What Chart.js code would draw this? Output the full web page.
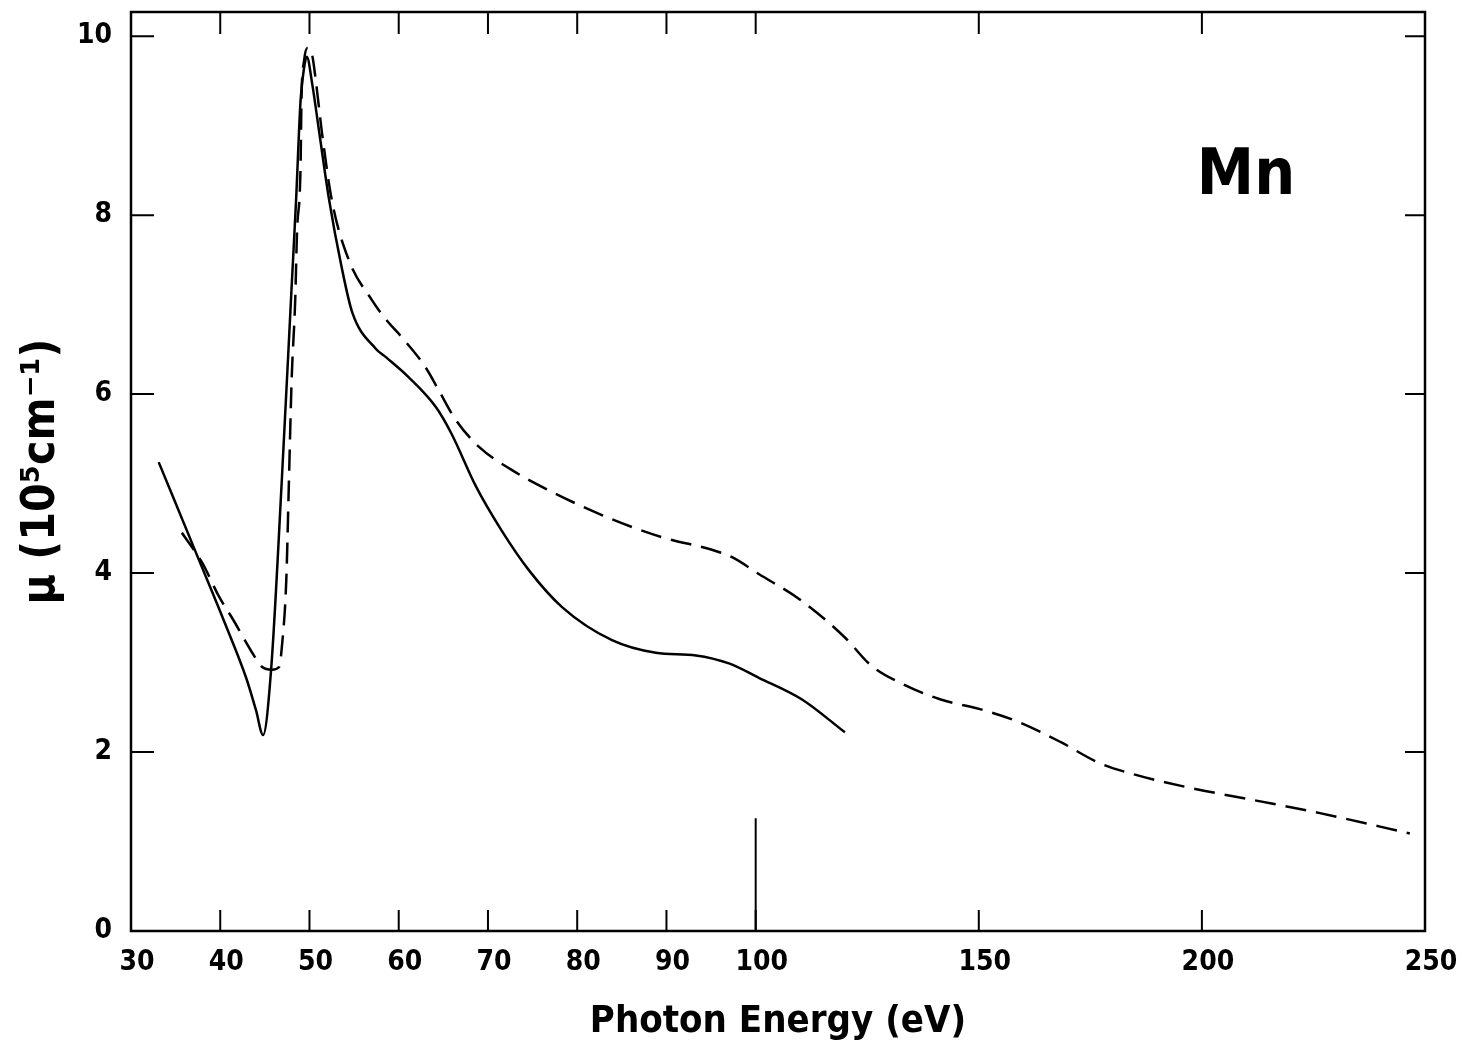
<!DOCTYPE html>
<html>
<head>
<meta charset="utf-8">
<script src="https://cdn.jsdelivr.net/npm/chart.js@4"></script>
<style>
  html, body { margin: 0; padding: 0; background: #fff; }
  canvas { display: block; }
</style>
</head>
<body>
<canvas id="chart" width="1462" height="1045"></canvas>
<script>
// photon energy (eV) / absorption coefficient (10^5 cm^-1)
const solidE  = [33.1, 37.6, 40.4, 42.9, 44.0, 44.8, 45.7, 46.9, 48.0, 48.5, 49.0, 49.4, 49.7, 50.3, 51.1, 52.2, 53.6, 54.8, 57.4, 58.6, 61.1, 64.2, 65.9, 68.7, 71.5, 74.6, 78.3, 83.9, 88.8, 93.3, 97.0, 100.7, 110.3, 120.0];
const solidMu = [5.24, 4.15, 3.47, 2.83, 2.47, 2.19, 2.92, 5.04, 7.20, 8.17, 9.28, 9.65, 9.77, 9.47, 8.92, 8.17, 7.42, 6.91, 6.51, 6.41, 6.19, 5.85, 5.56, 4.96, 4.48, 4.03, 3.62, 3.25, 3.11, 3.08, 2.99, 2.83, 2.59, 2.22];

const dashE  = [35.7, 38.0, 39.9, 41.5, 43.4, 44.7, 45.8, 46.6, 46.9, 47.4, 47.7, 48.0, 48.4, 48.6, 49.0, 49.1, 49.4, 49.8, 50.3, 50.7, 51.4, 52.5, 54.4, 57.0, 58.6, 60.3, 63.0, 64.5, 66.4, 69.0, 72.7, 77.1, 83.2, 89.5, 95.1, 97.3, 100.7, 110.3, 120.0, 125.8, 132.5, 141.3, 150.9, 158.7, 168.4, 176.9, 184.8, 197.3, 211.9, 226.2, 246.6];
const dashMu = [4.45, 4.11, 3.73, 3.47, 3.14, 2.95, 2.92, 2.95, 3.17, 3.92, 5.04, 6.16, 7.05, 7.80, 8.54, 9.28, 9.73, 9.87, 9.79, 9.51, 8.92, 8.17, 7.50, 7.05, 6.83, 6.64, 6.30, 6.04, 5.71, 5.41, 5.15, 4.91, 4.63, 4.40, 4.26, 4.18, 3.99, 3.69, 3.28, 2.97, 2.77, 2.59, 2.47, 2.34, 2.11, 1.88, 1.75, 1.60, 1.46, 1.32, 1.09];

// the short vertical marker at 100 eV
const markE  = [100, 100];
const markMu = [0, 1.26];

const xTicks = [30, 40, 50, 60, 70, 80, 90, 100, 150, 200, 250];
const yTicks = [0, 2, 4, 6, 8, 10];

// axis is compressed by half above 100 eV
const axisPos = e => e <= 100 ? e : 100 + (e - 100) / 2;
const pts = (xs, ys) => xs.map((e, i) => ({ x: axisPos(e), y: ys[i] }));

const FONT = "'DejaVu Sans Condensed', 'DejaVu Sans', sans-serif";

const framePlugin = {
  id: "frame",
  afterDraw(chart) {
    const { ctx, chartArea: a, scales } = chart;
    ctx.save();
    ctx.strokeStyle = "#000";
    ctx.lineWidth = 2.5;
    ctx.strokeRect(a.left, a.top, a.right - a.left, a.bottom - a.top);
    ctx.lineWidth = 2;
    ctx.beginPath();
    xTicks.slice(1, -1).forEach(v => {
      const x = scales.x.getPixelForValue(axisPos(v));
      ctx.moveTo(x, a.bottom); ctx.lineTo(x, a.bottom - 21);
      ctx.moveTo(x, a.top); ctx.lineTo(x, a.top + 22);
    });
    yTicks.slice(1).forEach(v => {
      const y = scales.y.getPixelForValue(v);
      ctx.moveTo(a.left, y); ctx.lineTo(a.left + 23, y);
      ctx.moveTo(a.right, y); ctx.lineTo(a.right - 20, y);
    });
    ctx.stroke();
    ctx.fillStyle = "#000";
    ctx.font = "bold 64px " + FONT;
    ctx.textAlign = "center";
    ctx.textBaseline = "middle";
    ctx.fillText("Mn", 1246, 177);
    ctx.restore();
  }
};

const lineStyle = { borderColor: "#000", borderWidth: 2.5, pointRadius: 0, fill: false, cubicInterpolationMode: "monotone" };

new Chart(document.getElementById("chart"), {
  type: "line",
  data: {
    datasets: [
      { label: "solid", data: pts(solidE, solidMu), ...lineStyle },
      { label: "dashed", data: pts(dashE, dashMu), ...lineStyle, borderDash: [21, 10] },
      { label: "marker", data: pts(markE, markMu), ...lineStyle, borderWidth: 2 },
    ]
  },
  options: {
    responsive: false,
    animation: false,
    devicePixelRatio: 1,
    layout: { padding: { left: 0, top: 12, right: 37, bottom: 0 } },
    plugins: { legend: { display: false }, tooltip: { enabled: false } },
    scales: {
      x: {
        type: "linear",
        min: 30,
        max: axisPos(250),
        grid: { display: false },
        border: { display: false },
        afterBuildTicks: s => { s.ticks = xTicks.map(v => ({ value: axisPos(v) })); },
        afterFit: s => { s.height = 114; s.paddingLeft = 0; s.paddingRight = 0; },
        ticks: {
          autoSkip: false, maxRotation: 0, padding: 7, labelOffset: 6,
          color: "#000", font: { family: FONT, size: 28, weight: "bold" },
          callback: (v, i) => xTicks[i]
        },
        title: {
          display: true, text: "Photon Energy (eV)", color: "#000",
          font: { family: FONT, size: 38, weight: "bold" }, padding: { top: 0, bottom: 0 }
        }
      },
      y: {
        type: "linear",
        min: 0,
        max: 10.27,
        grid: { display: false },
        border: { display: false },
        afterBuildTicks: s => { s.ticks = yTicks.map(v => ({ value: v })); },
        afterFit: s => { s.width = 131; s.paddingTop = 0; s.paddingBottom = 0; },
        ticks: {
          autoSkip: false, padding: 11,
          color: "#000", font: { family: FONT, size: 28, weight: "bold" },
          callback: v => v
        },
        title: {
          display: true, text: "\u03bc (10\u2075cm\u207b\u00b9)", color: "#000",
          font: { family: FONT, size: 46, weight: "bold" }, padding: { top: 14, bottom: 0 }
        }
      }
    }
  },
  plugins: [framePlugin]
});
</script>
</body>
</html>
